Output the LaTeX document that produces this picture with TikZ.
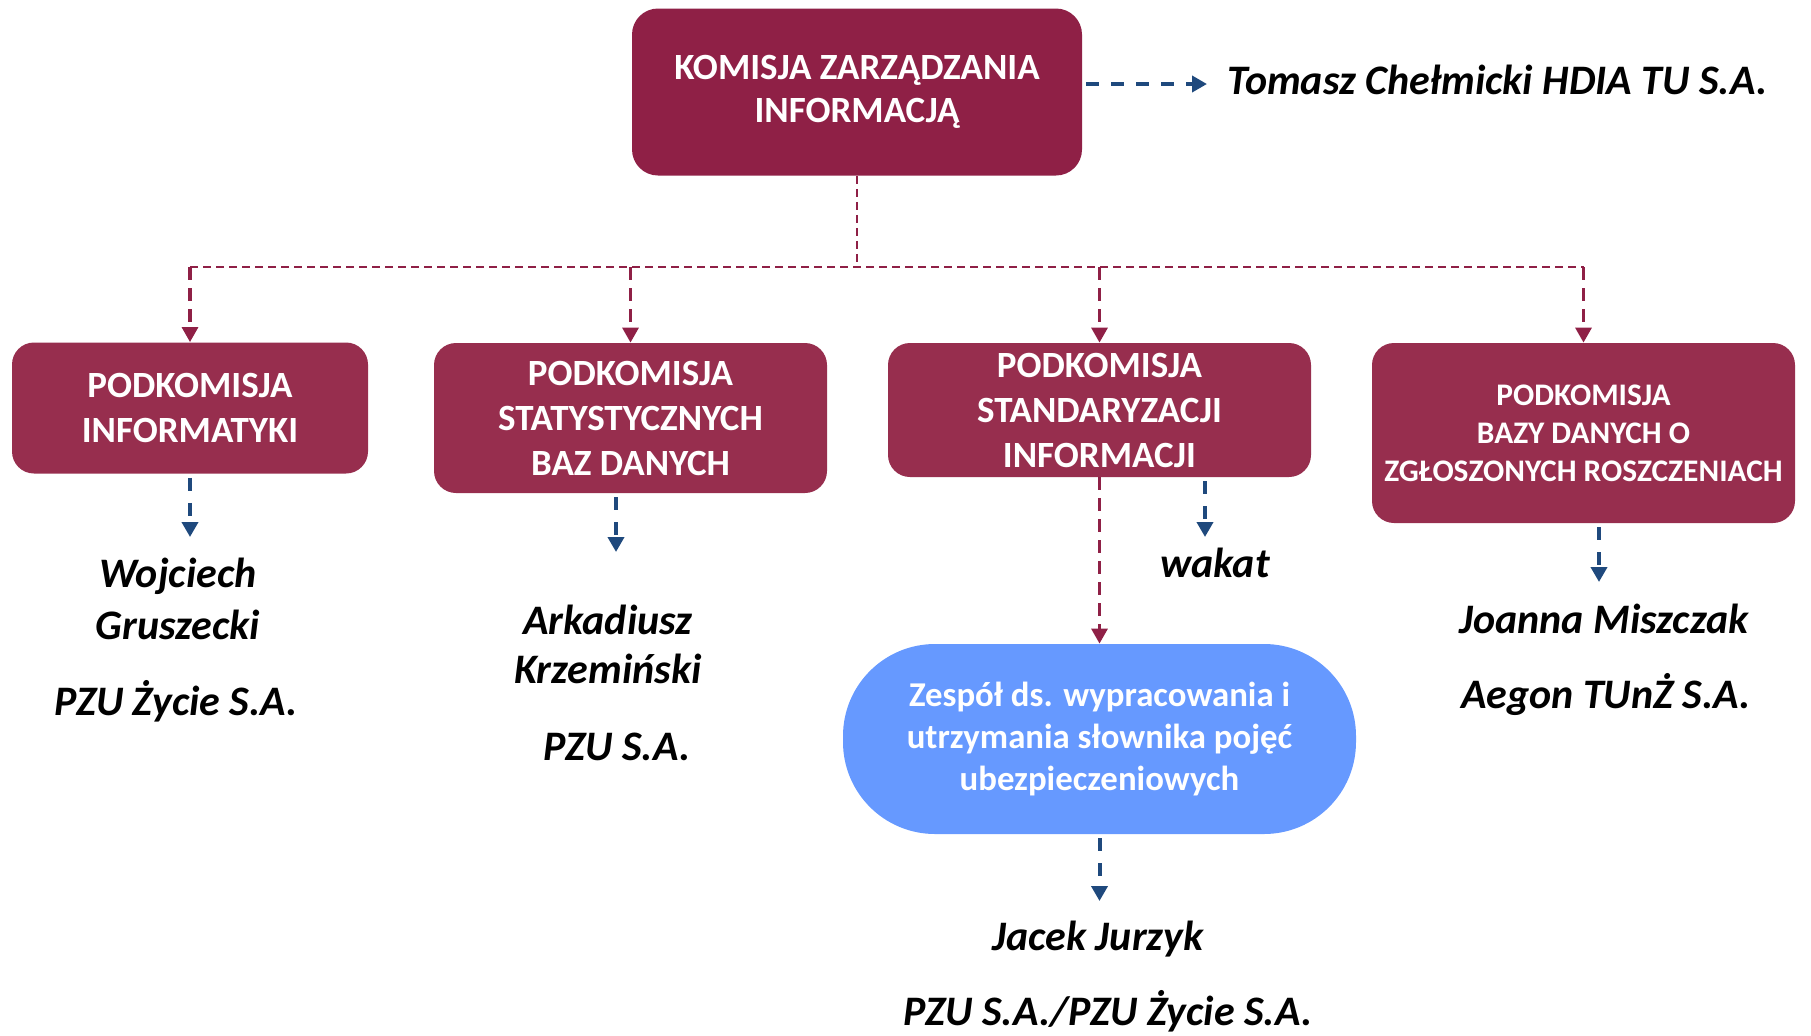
\documentclass[tikz,border=0pt]{standalone}
\usepackage{fontspec}
\setmainfont{Carlito}
\usetikzlibrary{arrows.meta,positioning}
\definecolor{wine}{RGB}{143,32,70}
\definecolor{winebox}{RGB}{151,46,78}
\definecolor{navy}{RGB}{31,73,125}
\definecolor{sky}{RGB}{102,153,255}
\tikzset{
    komisja/.style={fill=wine, rounded corners=13pt, text=white, inner sep=0pt, align=center,
        font=\fontsize{18.5}{21.5}\selectfont\bfseries},
    podkom/.style={fill=winebox, rounded corners=11pt, text=white, inner sep=0pt, align=center,
        font=\fontsize{18.5}{22.5}\selectfont\bfseries},
    zespol/.style={fill=sky, rounded corners=46pt, text=white, inner sep=0pt, align=center,
        font=\fontsize{17.4}{20.8}\selectfont\bfseries},
    osoba/.style={font=\fontsize{21}{25}\selectfont\bfseries\itshape, inner sep=0pt, anchor=base},
    redbus/.style={draw=wine, line width=1pt, dash pattern=on 4pt off 2.5pt},
    redarrow/.style={draw=wine, line width=1.6pt, dash pattern=on 6.5pt off 4pt,
        -{Triangle[length=7.5pt,width=8pt]}},
    bluearrow/.style={draw=navy, line width=2pt, dash pattern=on 6.5pt off 6pt, shorten <=2pt,
        -{Triangle[length=7.5pt,width=8pt]}}
}

\begin{document}
\begin{tikzpicture}[x=0.5pt,y=-0.5pt]
    \useasboundingbox (0,0) rectangle (1811,1035);
    \node[komisja, minimum width=225pt, minimum height=83.5pt] (kzi) at (857,92)
        {KOMISJA ZARZĄDZANIA\\INFORMACJĄ};
    \node[podkom, minimum width=178pt, minimum height=65.5pt] (inf) at (190,408)
        {PODKOMISJA\\INFORMATYKI};
    \node[podkom, minimum width=196.5pt, minimum height=75pt] (stat) at (630.5,418)
        {PODKOMISJA\\STATYSTYCZNYCH\\BAZ DANYCH};
    \node[podkom, minimum width=211.5pt, minimum height=67pt] (stand) at (1099.5,410)
        {PODKOMISJA\\STANDARYZACJI\\INFORMACJI};
    \node[podkom, minimum width=211.5pt, minimum height=90pt,
        font=\fontsize{15.7}{19}\selectfont\bfseries] (rosz) at (1583.5,433)
        {PODKOMISJA\\BAZY DANYCH O\\ZGŁOSZONYCH ROSZCZENIACH};
    \node[zespol, minimum width=256.5pt, minimum height=95pt] (slow) at (1099.5,739)
        {Zespół ds. wypracowania i\\utrzymania słownika pojęć\\ubezpieczeniowych};

    \node[osoba, anchor=base west] (tomasz) at (1227,94) {Tomasz Chełmicki HDIA TU S.A.};
    \node[osoba] (woj) at (178,587) {Wojciech};
    \node[osoba] (grusz) at (178,639) {Gruszecki};
    \node[osoba] (pzuz) at (176,715) {PZU Życie S.A.};
    \node[osoba] (ark) at (608,634) {Arkadiusz};
    \node[osoba] (krz) at (608,683) {Krzemiński};
    \node[osoba] (pzu) at (617,760) {PZU S.A.};
    \node[osoba] (wakat) at (1215,577) {wakat};
    \node[osoba] (joanna) at (1604,633) {Joanna Miszczak};
    \node[osoba] (aegon) at (1606,708) {Aegon TUnŻ S.A.};
    \node[osoba] (jacek) at (1098,950) {Jacek Jurzyk};
    \node[osoba] (pzuzz) at (1108,1025) {PZU S.A./PZU Życie S.A.};

    \coordinate (bus) at (857,267);
    \coordinate (eT) at (1207,84);
    \coordinate (e1) at (190,537);
    \coordinate (e2) at (616,552);
    \coordinate (e3) at (1205,537);
    \coordinate (e4) at (1599,582);
    \coordinate (e5) at (1099.5,901);

    \draw[redbus] (kzi.south) -- (bus);
    \draw[redbus] (bus -| inf.north) -- (bus -| rosz.north);
    \draw[redarrow] (bus -| inf.north) -- (inf.north);
    \draw[redarrow] (bus -| stat.north) -- (stat.north);
    \draw[redarrow] (bus -| stand.north) -- (stand.north);
    \draw[redarrow] (bus -| rosz.north) -- (rosz.north);
    \draw[redarrow] (stand.south) -- (slow.north);

    \draw[bluearrow] (kzi.east |- eT) -- (eT);
    \draw[bluearrow] (inf.south) -- (e1);
    \draw[bluearrow] (stat.south -| e2) -- (e2);
    \draw[bluearrow] (stand.south -| e3) -- (e3);
    \draw[bluearrow] (rosz.south -| e4) -- (e4);
    \draw[bluearrow] (slow.south) -- (e5);
\end{tikzpicture}
\end{document}
